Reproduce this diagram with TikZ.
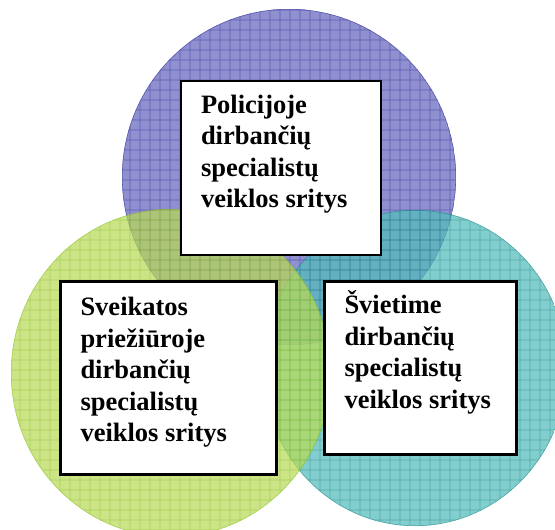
\documentclass[tikz,border=0pt]{standalone}
\usepackage{fontspec}
\setmainfont{Liberation Serif}
\usetikzlibrary{positioning}
\definecolor{polfill}{HTML}{7474C6}
\definecolor{polline}{HTML}{34349A}
\definecolor{sveifill}{HTML}{B8DA56}
\definecolor{sveiline}{HTML}{88BE1C}
\definecolor{svietfill}{HTML}{56BCBC}
\definecolor{svietline}{HTML}{128C8A}
\tikzset{
  sritis/.style  = {draw=black, line width=2.4pt, fill=white, inner sep=0pt},
  tekstas/.style = {inner sep=0pt, align=left,
                    font=\fontsize{26.5}{31.5}\selectfont\bfseries},
  tinklas/.style = {line width=0.7pt},
}

\begin{document}
\begin{tikzpicture}[x=1pt,y=-1pt]
  \useasboundingbox (0,0) rectangle (555,530);
  % three coloured circles with a grid
  \foreach \cx/\cy/\rx/\ry/\fc/\lc/\op in
      {289/177/167/168/polfill/polline/0.8,
       415/368/152/158/svietfill/svietline/0.74,
       171/373/160/164/sveifill/sveiline/0.72}{
    \begin{scope}[transparency group, opacity=\op]
      \clip (\cx,\cy) ellipse [x radius=\rx, y radius=\ry];
      \fill[\fc] (\cx,\cy) ellipse [x radius=\rx, y radius=\ry];
      \foreach \g in {0,10,...,560}
        \draw[tinklas,\lc] (\g,0) -- (\g,540);
      \foreach \g in {0,10,...,540}
        \draw[tinklas,\lc] (0,\g) -- (560,\g);
      \draw[\lc,line width=1.2pt] (\cx,\cy) ellipse [x radius=\rx, y radius=\ry];
    \end{scope}
  }
  % boxes
  \node[sritis, minimum width=200, minimum height=174] (policija) at (281,168) {};
  \node[sritis, minimum width=216, minimum height=193] (sveikata) at (168.5,378) {};
  \node[sritis, minimum width=192, minimum height=173] (svietimas) at (420.5,368) {};
  \node[tekstas, below right=15pt and 21pt of policija.north west]
    (policija-t) {Policijoje\\dirbančių\\specialistų\\veiklos sritys};
  \node[tekstas, below right=17pt and 21pt of sveikata.north west]
    (sveikata-t) {Sveikatos\\priežiūroje\\dirbančių\\specialistų\\veiklos sritys};
  \node[tekstas, below right=10pt and 21pt of svietimas.north west]
    (svietimas-t) {Švietime\\dirbančių\\specialistų\\veiklos sritys};
\end{tikzpicture}
\end{document}
